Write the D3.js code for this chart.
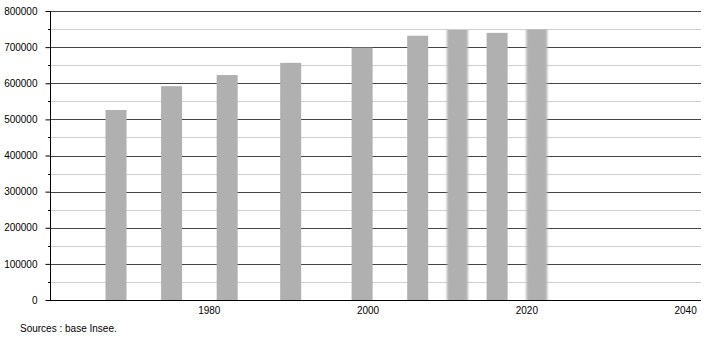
<!DOCTYPE html>
<html>
<head>
<meta charset="utf-8">
<script src="https://cdn.jsdelivr.net/npm/d3@7"></script>
<style>
  html, body { margin: 0; padding: 0; background: #fff; }
  svg { display: block; font-family: "Liberation Sans", Arial, sans-serif; }
</style>
</head>
<body>
<svg id="chart" width="710" height="340"></svg>
<script>
const years = [1968, 1975, 1982, 1990, 1999, 2006, 2011, 2016, 2021];
const population = [526000, 592000, 622700, 656500, 698500, 731600, 747500, 739500, 749000];
const yTicks = [0, 100000, 200000, 300000, 400000, 500000, 600000, 700000, 800000];
const yMinorTicks = [50000, 150000, 250000, 350000, 450000, 550000, 650000, 750000];
const xTicks = [1980, 2000, 2020, 2040];
const sourceText = "Sources : base Insee.";

(function () {
const svg = d3.select("#chart");
const mLeft = 50, mRight = 701, mTop = 11, mBottom = 300;

const x = d3.scaleLinear().domain([1960, 2042]).range([mLeft, mRight]);
const y = d3.scaleLinear().domain([0, 800000]).range([mBottom, mTop]);

const defs = svg.append("defs");
defs.append("filter").attr("id", "soft").attr("x", "-20%").attr("width", "140%")
  .append("feGaussianBlur").attr("stdDeviation", "1 0");

// minor gridlines
svg.append("g").selectAll("line").data(yMinorTicks).join("line")
  .attr("x1", mLeft).attr("x2", mRight)
  .attr("y1", d => Math.round(y(d)) + 0.5).attr("y2", d => Math.round(y(d)) + 0.5)
  .attr("stroke", "#cfcfcf").attr("stroke-width", 1);

// major gridlines
svg.append("g").selectAll("line").data(yTicks.filter(d => d > 0)).join("line")
  .attr("x1", mLeft).attr("x2", mRight)
  .attr("y1", d => Math.round(y(d)) + 0.5).attr("y2", d => Math.round(y(d)) + 0.5)
  .attr("stroke", "#444").attr("stroke-width", 1);

// bars
const barW = 21;
const soft = new Set([2011, 2021]);
svg.append("g").selectAll("rect").data(years).join("rect")
  .attr("x", d => x(d) - 8)
  .attr("width", barW)
  .attr("y", (d, i) => y(population[i]))
  .attr("height", (d, i) => y(0) - y(population[i]))
  .attr("fill", "#b0b0b0")
  .attr("filter", d => soft.has(d) ? "url(#soft)" : null);

// y axis
const yAxis = d3.axisLeft(y).tickValues(yTicks).tickSize(5).tickPadding(8)
  .tickFormat(d3.format("d"));
const gy = svg.append("g").attr("transform", `translate(${mLeft + 0.5},0)`).call(yAxis);
gy.select(".domain").attr("stroke", "#000").attr("d", `M0,${mTop}V${mBottom}`);
gy.selectAll(".tick line").attr("stroke", "#000");
gy.selectAll("text").attr("font-size", 10).attr("fill", "#000")
  .attr("font-family", "Liberation Sans, Arial, sans-serif");

// minor y ticks
svg.append("g").selectAll("line").data(yMinorTicks).join("line")
  .attr("x1", mLeft - 2).attr("x2", mLeft)
  .attr("y1", d => Math.round(y(d)) + 0.5).attr("y2", d => Math.round(y(d)) + 0.5)
  .attr("stroke", "#000");

// x axis
const xAxis = d3.axisBottom(x).tickValues(xTicks).tickSize(0).tickPadding(6)
  .tickFormat(d3.format("d"));
const gx = svg.append("g").attr("transform", `translate(0,${mBottom + 0.5})`).call(xAxis);
gx.select(".domain").attr("stroke", "#000").attr("d", `M${mLeft},0H${mRight}`);
gx.selectAll("text").attr("font-size", 10).attr("fill", "#000")
  .attr("font-family", "Liberation Sans, Arial, sans-serif");

// source
svg.append("text").attr("x", 20).attr("y", 332)
  .attr("font-size", 10).attr("fill", "#000")
  .text(sourceText);
})();
</script>
</body>
</html>
